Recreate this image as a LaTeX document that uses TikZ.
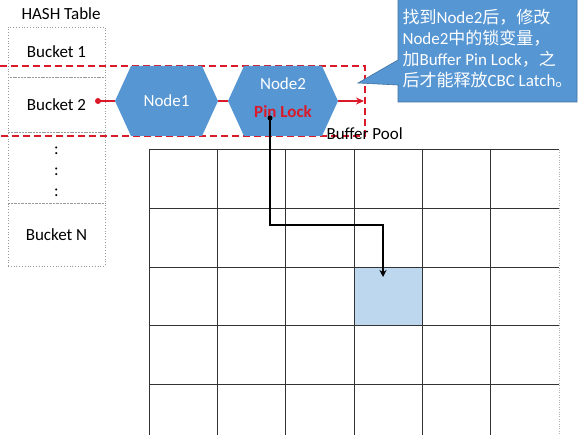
\documentclass[tikz,border=0pt]{standalone}
\usepackage{fontspec}
\setmainfont{Carlito}
\newfontfamily\cjk{Noto Sans CJK SC}
\usepackage{xcolor}
\usetikzlibrary{positioning,shapes.callouts,arrows.meta}

\definecolor{hexblue}{RGB}{86,150,211}
\definecolor{hitblue}{RGB}{189,215,238}
\definecolor{lockred}{RGB}{218,26,40}

\tikzset{
    every node/.style={font=\fontsize{17pt}{21pt}\selectfont},
    bucket/.style={draw=gray!80, dotted, line width=0.8pt, minimum width=97pt, inner sep=0pt, outer sep=0pt},
    hexnode/.style={minimum height=70pt, inner sep=0pt, outer sep=0pt, text=white,
        path picture={\fill[hexblue] (path picture bounding box.west)
            -- ([xshift=16pt]path picture bounding box.north west)
            -- ([xshift=-16pt]path picture bounding box.north east)
            -- (path picture bounding box.east)
            -- ([xshift=-16pt]path picture bounding box.south east)
            -- ([xshift=16pt]path picture bounding box.south west) -- cycle;}},
    redlink/.style={draw=lockred, line width=1.5pt},
    banddash/.style={draw=lockred, line width=1.3pt, dash pattern=on 7pt off 4pt},
    cell/.style={draw=black!80, line width=1pt},
    lockline/.style={draw=black, line width=1.6pt},
}

\begin{document}
\begin{tikzpicture}[x=1pt, y=-1pt]
    \useasboundingbox (0,0) rectangle (588,435);

    \node[anchor=base west] (title) at (18,20) {HASH Table};
    \node[bucket, minimum height=50pt] (b1) at (56.5,52) {Bucket 1};
    \node[bucket, minimum height=55pt, below=0pt of b1] (b2) {Bucket 2};
    \node[bucket, minimum height=71pt, below=0pt of b2] (bdots) {};
    \node[align=center] (vdots) at ([yshift=-4pt]bdots.center) {:\\:\\:};
    \node[bucket, minimum height=63pt, below=0pt of bdots] (bn) {Bucket N};

    \node[fill=hitblue, minimum width=68.3pt, minimum height=58.6pt, inner sep=0pt] (hit) at (388.5,296) {};
    \foreach \i in {0,...,5}
        \draw[cell] (149.3+68.3*\i,150) -- (149.3+68.3*\i,435);
    \foreach \j in {0,...,4}
        \draw[cell] (149.3,150+58.6*\j) -- (559.3,150+58.6*\j);
    \draw[gray!60, dotted] (559.3,150) -- (559.3,435);

    \draw[banddash] (0,66) -- (365,66) -- (365,136) -- (0,136);
    \node[anchor=base west] (pool) at (323,140) {Buffer Pool};

    \node[hexnode, minimum width=103pt] (n1) at (166.5,101) {Node1};
    \node[hexnode, minimum width=110pt, align=center, text depth=6pt, font=\fontsize{17pt}{28pt}\selectfont] (n2) at (283,101)
        {Node2\\\textcolor{lockred}{\bfseries Pin Lock}};

    \coordinate (b2dot) at (98,101);
    \coordinate (bandend) at (364,101);
    \fill[lockred] (b2dot) circle (3);
    \draw[redlink] (b2dot) -- (n1.west);
    \draw[redlink] (n1.east) -- (n2.west);
    \draw[redlink, -{Stealth[length=8pt,width=7pt]}] (n2.east) -- (bandend);

    \coordinate (lockdot) at (270,118);
    \coordinate (bend) at (383,225);
    \coordinate (hitin) at (383,277);
    \fill (lockdot) circle (2.5);
    \draw[lockline, -{Stealth[length=7pt,width=7pt]}] (lockdot) |- (bend) -- (hitin);

    \node[rectangle callout, fill=hexblue, draw=hexblue!75!black, line width=0.6pt, text=white,
        minimum width=179pt, minimum height=106pt, align=left,
        callout absolute pointer={(358,83)}, callout pointer width=25pt] (tip) at (487.5,49)
        {{\cjk 找到}Node2{\cjk 后，修改}\\
         Node2{\cjk 中的锁变量，}\\
         {\cjk 加}Buffer Pin Lock{\cjk ，之}\\
         {\cjk 后才能释放}CBC Latch{\cjk 。}};
\end{tikzpicture}
\end{document}
